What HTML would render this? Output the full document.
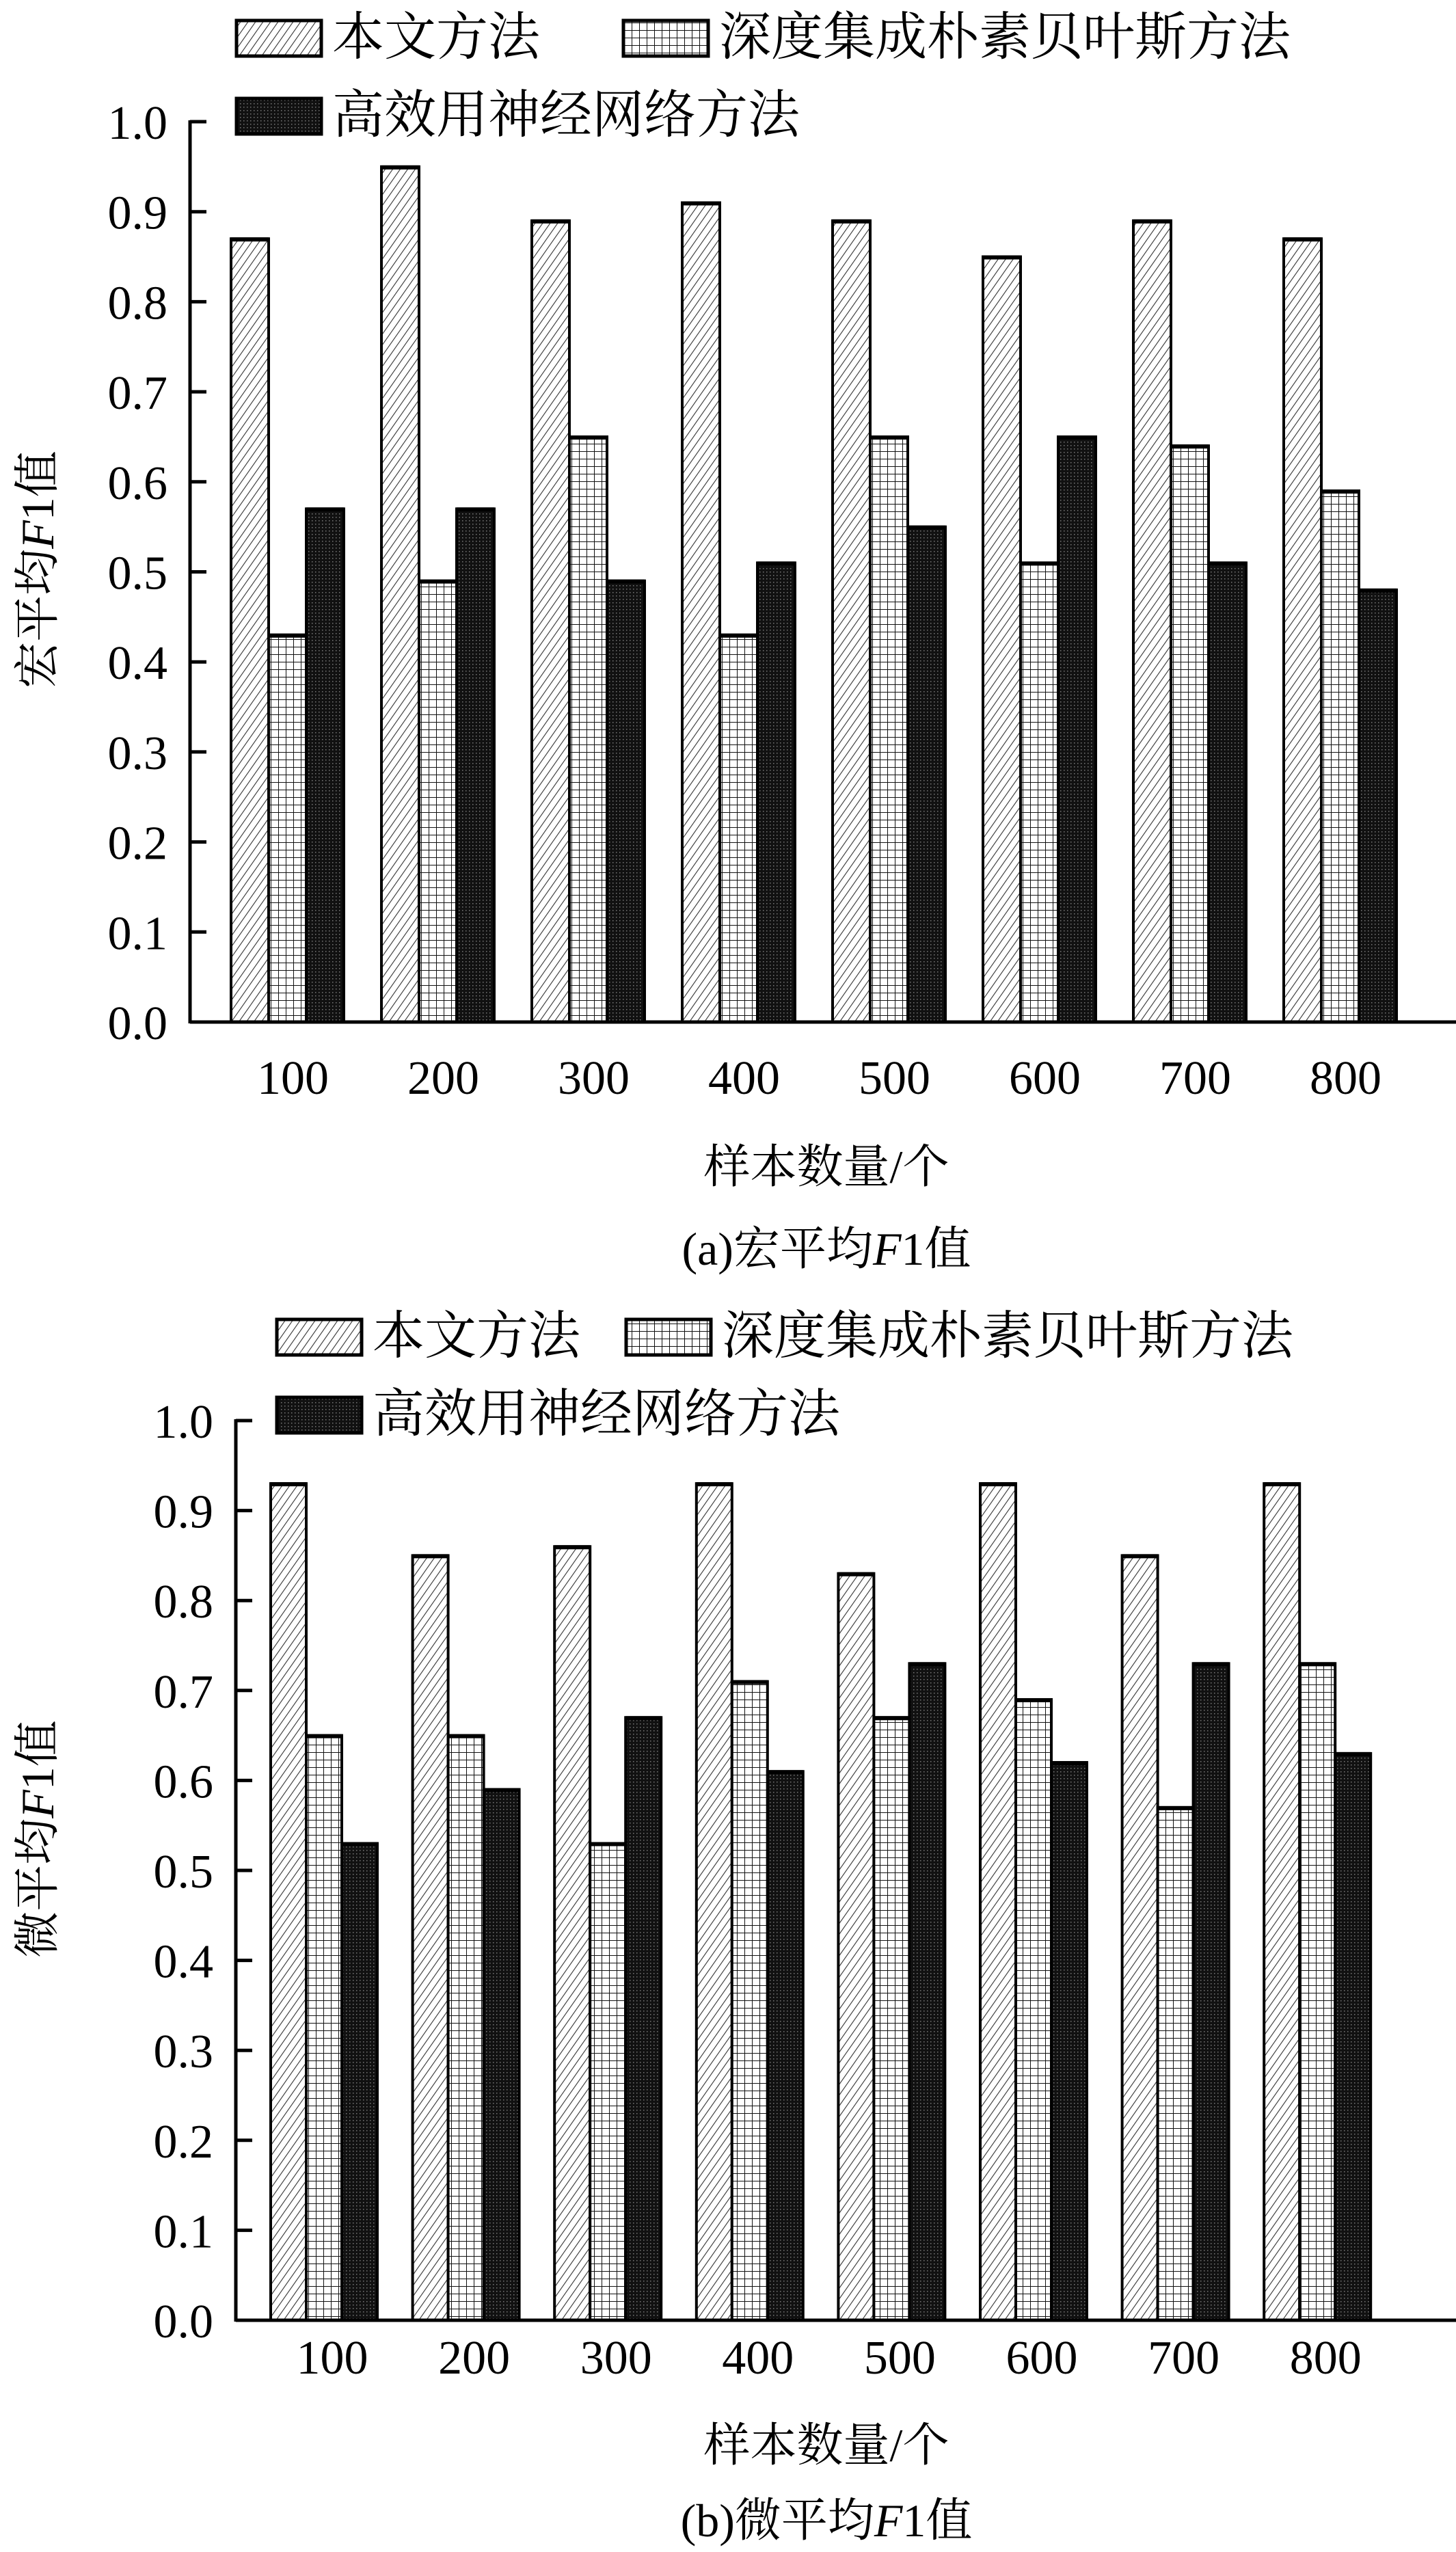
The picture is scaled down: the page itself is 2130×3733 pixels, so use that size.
<!DOCTYPE html>
<html><head><meta charset="utf-8"><style>
html,body{margin:0;padding:0;background:#fff}
svg{display:block}
text{font-family:"Liberation Serif","Noto Serif CJK SC",serif;fill:#000}
</style></head><body>
<svg id="root" width="2130" height="3733" viewBox="0 0 2130 3733" xmlns="http://www.w3.org/2000/svg">
<defs>
<pattern id="hatch" patternUnits="userSpaceOnUse" width="9" height="9" patternTransform="rotate(35)">
<rect width="9" height="9" fill="#fff"/><line x1="0" y1="0" x2="0" y2="9" stroke="#333" stroke-width="2.2"/>
</pattern>
<pattern id="grid" patternUnits="userSpaceOnUse" width="11" height="11">
<rect width="11" height="11" fill="#fff"/><path d="M0 0H11M0 0V11" stroke="#111" stroke-width="2"/>
</pattern>
<pattern id="dots" patternUnits="userSpaceOnUse" width="5" height="5">
<rect width="5" height="5" fill="#111"/><rect x="1" y="1" width="1.5" height="1.5" fill="#777"/>
</pattern>
</defs>
</svg>
<script>
const categories=["100","200","300","400","500","600","700","800"];
const seriesNames=["本文方法","深度集成朴素贝叶斯方法","高效用神经网络方法"];
const yTicks=["0.0","0.1","0.2","0.3","0.4","0.5","0.6","0.7","0.8","0.9","1.0"];
const macroOurs=[0.87,0.95,0.89,0.91,0.89,0.85,0.89,0.87];
const macroNB=[0.43,0.49,0.65,0.43,0.65,0.51,0.64,0.59];
const macroNN=[0.57,0.57,0.49,0.51,0.55,0.65,0.51,0.48];
const microOurs=[0.93,0.85,0.86,0.93,0.83,0.93,0.85,0.93];
const microNB=[0.65,0.65,0.53,0.71,0.67,0.69,0.57,0.73];
const microNN=[0.53,0.59,0.67,0.61,0.73,0.62,0.73,0.63];

const NS="http://www.w3.org/2000/svg";
const root=document.getElementById('root');
function mk(tag,attrs,parent,txt){const e=document.createElementNS(NS,tag);for(const k in attrs)e.setAttribute(k,attrs[k]);if(txt!==undefined)e.textContent=txt;(parent||root).appendChild(e);return e;}
const fills=["url(#hatch)","url(#grid)","url(#dots)"];

function chart(cfg,series,prefix){
  const g=mk('g',{});
  
  
  const y=v=>cfg.y0-(v)*(cfg.y0-cfg.y1);
  const x=(i,s)=>cfg.gx+i*cfg.step+s*cfg.bw;
  series.forEach((vals,s)=>{
    vals.forEach((v,i)=>{
      const r=mk('rect',{x:x(i,s),y:y(v),width:cfg.bw,height:cfg.y0-y(v),fill:fills[s],stroke:'#000','stroke-width':4},g);
      
      
      mk('line',{x1:x(i,s),x2:x(i,s)+cfg.bw,y1:y(v)+1,y2:y(v)+1,stroke:'#000','stroke-width':6},g);
    });
  });
  const ya=mk('line',{x1:cfg.ax,x2:cfg.ax,y1:cfg.y1-2,y2:cfg.y0+2,stroke:'#000','stroke-width':5},g);
  
  
  const xa=mk('line',{x1:cfg.ax,x2:2130,y1:cfg.y0,y2:cfg.y0,stroke:'#000','stroke-width':5},g);
  
  
  yTicks.forEach((t,k)=>{
    const v=k/10;
    mk('line',{x1:cfg.ax,x2:cfg.ax+24,y1:y(v),y2:y(v),stroke:'#000','stroke-width':5},g);
    const tx=mk('text',{x:cfg.ax-33,y:y(v)+25,'text-anchor':'end','font-size':70},g,t);
    
    
  });
  categories.forEach((c,i)=>{
    const tx=mk('text',{x:cfg.gx+i*cfg.step+1.5*cfg.bw+cfg.lblOff,y:cfg.xLblY,'text-anchor':'middle','font-size':70},g,c);
    
    
  });
  const yt=mk('text',{x:0,y:0,'text-anchor':'middle','font-size':68,transform:`translate(${cfg.ytX},${cfg.ytY}) rotate(-90)`},g);
  
  
  mk('tspan',{},yt,cfg.ytA);
  mk('tspan',{'font-style':'italic'},yt,'F');
  mk('tspan',{},yt,'1值');
  const xt=mk('text',{x:1209,y:cfg.xtY,'text-anchor':'middle','font-size':68},g,'样本数量/个');
  
  
  const cap=mk('text',{x:1209,y:cfg.capY,'text-anchor':'middle','font-size':68},g);
  
  
  mk('tspan',{},cap,cfg.capA);
  mk('tspan',{'font-style':'italic'},cap,'F');
  mk('tspan',{},cap,'1值');
  cfg.leg.forEach((p,s)=>{
    const lg=mk('g',{},g);
    
    
    mk('rect',{x:p[0],y:p[1],width:124,height:52,fill:fills[s],stroke:'#000','stroke-width':5},lg);
    mk('text',{x:p[0]+140,y:p[1]+50,'font-size':76},lg,seriesNames[s]);
  });
}
chart({ax:278,y0:1495,y1:178,gx:338,step:220,bw:55,lblOff:8,xLblY:1600,ytX:78,ytY:833,ytA:'宏平均',xtY:1730,capY:1850,capA:'(a)宏平均',
  leg:[[346,30],[912,30],[346,144]]},[macroOurs,macroNB,macroNN],'macro');
chart({ax:345,y0:3394,y1:2078,gx:396,step:207.6,bw:52,lblOff:12,xLblY:3472,ytX:78,ytY:2690,ytA:'微平均',xtY:3600,capY:3710,capA:'(b)微平均',
  leg:[[405,1930],[916,1930],[405,2044]]},[microOurs,microNB,microNN],'micro');
</script>
</body></html>
